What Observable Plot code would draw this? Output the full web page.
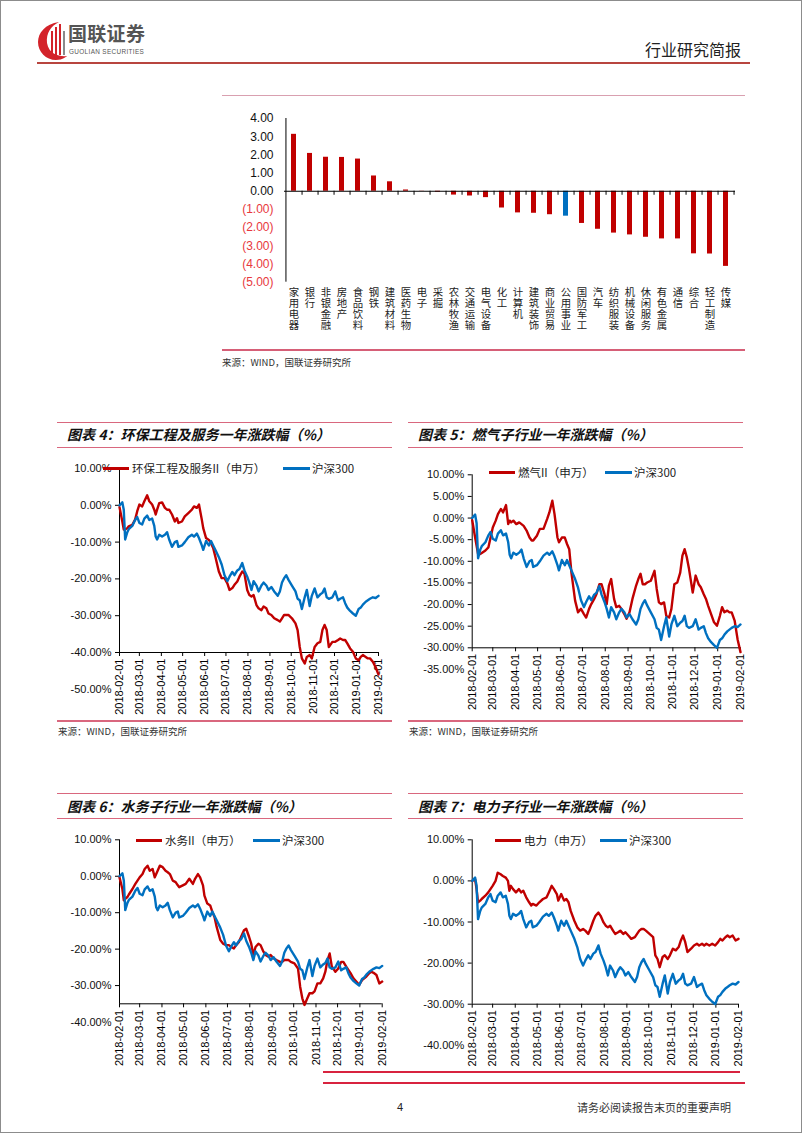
<!DOCTYPE html>
<html><head><meta charset="utf-8">
<script src="https://cdn.jsdelivr.net/npm/d3@7"></script>
<script src="https://cdn.jsdelivr.net/npm/@observablehq/plot@0.6"></script>
<style>
body{margin:0;background:#fff;}
#page{position:relative;width:802px;height:1133px;overflow:hidden;background:#fff;font-family:"Noto Sans CJK SC","Noto Sans",sans-serif;color:#222;}
.a{position:absolute;white-space:nowrap;}
.ln{position:absolute;height:1px;}
.ttl{position:absolute;font-size:14px;font-weight:bold;font-style:italic;line-height:20px;color:#111;white-space:nowrap;}
.src{position:absolute;font-size:9.5px;line-height:12px;color:#333;white-space:nowrap;}
.lgt{position:absolute;font-size:11.5px;line-height:16px;color:#222;white-space:nowrap;}
.seg{position:absolute;height:3px;}
.plotbox{position:absolute;}
.plotbox svg{overflow:visible;}
#barbox text[aria-label="catlab"]{writing-mode:vertical-rl;text-orientation:upright;letter-spacing:0.6px;}
</style></head>
<body><div id="page"></div>
<script>
// ---------------- data ----------------
const barCats = ["家用电器","银行","非银金融","房地产","食品饮料","钢铁","建筑材料","医药生物","电子","采掘","农林牧渔","交通运输","电气设备","化工","计算机","建筑装饰","商业贸易","公用事业","国防军工","汽车","纺织服装","机械设备","休闲服务","有色金属","通信","综合","轻工制造","传媒"];
const barVals = [3.13,2.08,1.87,1.86,1.77,0.84,0.52,0.07,0.01,-0.05,-0.21,-0.26,-0.35,-0.92,-1.19,-1.21,-1.29,-1.37,-1.77,-2.09,-2.30,-2.40,-2.53,-2.62,-2.62,-3.44,-3.45,-4.13];
const barHighlight = "公用事业";
const barTicks = [4,3,2,1,0,-1,-2,-3,-4,-5];

const dates = ["2018-02-01","2018-02-05","2018-02-07","2018-02-09","2018-02-12","2018-02-14","2018-02-19","2018-02-23","2018-02-26","2018-03-01",
"2018-03-05","2018-03-08","2018-03-12","2018-03-15","2018-03-19","2018-03-22","2018-03-24","2018-03-26","2018-03-29","2018-04-02",
"2018-04-06","2018-04-09","2018-04-12","2018-04-16","2018-04-20","2018-04-23","2018-04-25","2018-04-30","2018-05-04","2018-05-09",
"2018-05-14","2018-05-17","2018-05-21","2018-05-24","2018-05-28","2018-05-30","2018-06-03","2018-06-07","2018-06-10","2018-06-13",
"2018-06-16","2018-06-21","2018-06-25","2018-06-29","2018-07-03","2018-07-06","2018-07-10","2018-07-13","2018-07-17","2018-07-20",
"2018-07-24","2018-07-27","2018-07-31","2018-08-03","2018-08-06","2018-08-09","2018-08-13","2018-08-16","2018-08-20","2018-08-23",
"2018-08-27","2018-08-30","2018-09-03","2018-09-07","2018-09-12","2018-09-15","2018-09-18","2018-09-21","2018-09-24","2018-09-27",
"2018-10-02","2018-10-07","2018-10-10","2018-10-13","2018-10-16","2018-10-20","2018-10-23","2018-10-27","2018-10-30","2018-11-03",
"2018-11-07","2018-11-11","2018-11-14","2018-11-17","2018-11-20","2018-11-23","2018-11-28","2018-12-02","2018-12-06","2018-12-09",
"2018-12-13","2018-12-16","2018-12-19","2018-12-23","2018-12-27","2018-12-31","2019-01-04","2019-01-07","2019-01-10","2019-01-14",
"2019-01-17","2019-01-20","2019-01-24","2019-01-28","2019-02-01"];

const hs300 = [0,0.8,-1.2,-9.3,-7.3,-6.5,-5.6,-4,-3.2,-4.8,
-5.2,-3.6,-2.8,-4,-3.6,-5.6,-8.5,-9.3,-8,-8.5,
-8,-7.3,-9.3,-11.3,-10,-9.7,-11.3,-10.9,-10,-8.7,
-8,-8.5,-7.7,-8.9,-10.9,-12.1,-9.7,-10.9,-9.7,-10.9,
-12.1,-14.1,-16.1,-19,-20.6,-19.4,-18.1,-19,-17.7,-17.3,
-15.7,-17.7,-19.4,-21,-23,-20.6,-21.8,-23.4,-21.8,-21,
-21.8,-23,-22.2,-23.4,-24.6,-23.4,-21,-19.8,-19,-20.2,
-21.8,-23.4,-25.4,-25.8,-28.2,-25,-23,-27.4,-24.6,-22.6,
-25,-24.2,-23.8,-22.6,-25,-25.4,-25,-23.4,-25.8,-25.4,
-25,-26.6,-27.8,-28.7,-29.4,-30,-28.2,-27.8,-27,-26.2,
-25.8,-25.4,-25,-25.2,-24.6];

const envSeries = [-0.5,-4.4,-6.6,-6.6,-6.2,-5.7,-5.3,-3.9,-1.6,0.2,
-0.3,1.1,2.7,1.1,0.2,-1.2,-2.5,-1.2,0.6,0.8,
-0.7,-1.2,-1.2,-2.5,-4.4,-3.5,-4.8,-4.4,-3,-2.1,
-1.2,-0.3,-0.7,0.2,-3.9,-6.2,-8.9,-9.4,-10.3,-11.6,
-13.9,-18,-19.8,-19.8,-21.2,-23,-22.5,-21.6,-20.7,-19.4,
-18,-18.5,-23,-24.4,-24.8,-24.4,-27.1,-28,-28.5,-27.5,
-28,-29.4,-29.8,-30.7,-31.2,-31.6,-30.7,-29.8,-29.8,-29.8,
-30.7,-32.1,-33.9,-38.5,-41.6,-43,-41.2,-40.7,-41.6,-38.5,
-37.5,-37.1,-33.9,-32.5,-33.9,-38.5,-37.1,-37.1,-36.6,-36.2,
-36.6,-36.6,-37.5,-38.9,-39.8,-41.6,-42.1,-41.2,-40.7,-41.2,
-41.6,-41.6,-42.5,-44,-46];

const gasSeries = [-0.5,-4.5,-6.4,-8.3,-8.3,-8.1,-7.5,-6.8,-4.5,-2.2,
-0.6,0.9,2.1,1.3,3.0,-1.4,-0.6,-1,-0.6,-1.4,
-1,-1.4,-1.8,-2.9,-4.5,-5.2,-5.2,-4.1,-2.5,-2.5,
-0.2,1.3,4,0.9,-4.5,-5.6,-4.5,-4.5,-6,-7.2,
-12.6,-19.1,-21.8,-21,-22.2,-23,-21,-19.9,-18.7,-17.6,
-15.3,-15.3,-17.6,-19.9,-15.6,-14.1,-18.7,-20.6,-20.3,-21,
-22.2,-23.3,-21.8,-18.7,-15.6,-14.1,-12.9,-15.3,-15.3,-14.9,
-14.5,-12.2,-16.4,-19.5,-19.9,-19.5,-22.6,-23,-21,-15.3,
-14.9,-12.6,-8.7,-7.2,-9.1,-11.8,-17.2,-13.3,-15.3,-16,
-17.6,-18.7,-20.3,-22.2,-24.1,-24.9,-22.6,-20.6,-21.8,-21.4,
-21.8,-21.8,-23.7,-28,-31];

const waterSeries = [-0.3,-3.5,-6.6,-6.2,-5.7,-5,-3.5,-2.1,-1.2,-0.3,
0.6,2,2.9,1.5,2,-0.3,0.6,1.5,2.9,2.5,
1.5,1.1,0.6,-1.2,-1.6,-2.5,-3,-2.5,-2.1,-0.7,
-2.1,-0.7,0.6,-0.3,-2.5,-5.3,-7.5,-8,-9.8,-11.2,
-13.9,-17.5,-18.5,-18.9,-18.9,-19.4,-19.8,-18.9,-18,-16.6,
-14.8,-14.4,-16.6,-18.5,-21.6,-19.4,-18.5,-18.9,-20.7,-21.6,
-22.1,-21.6,-22.5,-23,-23.5,-23.5,-23,-23,-23,-23.5,
-23.9,-25.3,-30.3,-33.5,-35.3,-33.5,-32.1,-32.1,-31.6,-29.4,
-29.4,-28,-26.2,-23,-21.2,-24.8,-26.2,-25.3,-23.5,-23.5,
-24.8,-25.7,-26.6,-28,-28.9,-29.8,-28.5,-28,-27.5,-26.6,
-26.2,-26.5,-27.1,-29.4,-28.9];

const powerSeries = [0,0.4,-2,-5.2,-4.8,-4.4,-3.6,-2.8,-2,-1.2,
0,2,1.6,1.2,0.8,0,-2.4,-1.2,-2,-2.8,
-2,-2.8,-2.4,-4,-5.2,-6,-5.6,-6,-5.2,-4.4,
-4,-2.8,-1.2,-2,-3.2,-4.8,-3.2,-4.8,-4.4,-5.2,
-7.3,-9.7,-11.3,-12.1,-11.7,-12.1,-12.9,-11.7,-9.7,-8.5,
-7.7,-8.5,-10.1,-10.9,-11.3,-10.9,-12.1,-12.9,-12.5,-12.1,
-12.9,-12.5,-13.3,-14.1,-13.7,-12.9,-12.1,-11.7,-11.7,-12.1,
-12.9,-13.7,-18.1,-19,-21,-18.5,-18.1,-19,-18.1,-16.5,
-16.9,-16.1,-14.5,-13.3,-14.9,-17.3,-16.5,-15.7,-15.3,-15.7,
-15.3,-15.7,-15.3,-15.7,-15.3,-15.7,-14.9,-14.1,-14.5,-13.7,
-13.3,-13.7,-13.3,-14.5,-14.1];

const hsName = "沪深300";
const sourceText = "来源：WIND，国联证券研究所";

// ---------------- page ----------------
const RED = "#C00000", BLUE = "#0070C0", LINE = "#d9677e";
const page = document.getElementById("page");
function el(cls, css, html) {
  const d = document.createElement("div");
  d.className = cls; d.style.cssText = css; if (html != null) d.innerHTML = html;
  page.appendChild(d); return d;
}

// header
el("a", "left:37px;top:19px;width:30px;height:42px;", `<svg width="30" height="42" viewBox="0 0 30 42">
<path d="M22 3 C8 5 1 14 1 23 C1 33 9 41 19 41 C26 41 30 37 30 37 C24 38 12 36 10 24 C9 14 14 7 22 3Z" fill="#d3232a"/>
<rect x="14" y="12" width="2" height="24" fill="#d3232a"/><rect x="18" y="8" width="2" height="28" fill="#d3232a"/>
<rect x="22" y="5" width="2" height="31" fill="#d3232a"/><rect x="26" y="12" width="2" height="24" fill="#8a8a8a"/></svg>`);
el("a", "left:68px;top:19px;font-size:19px;font-weight:bold;color:#555;letter-spacing:0.3px;line-height:27px;", "国联证券");
el("a", "left:69px;top:48px;font-size:6.4px;color:#555;font-family:'Liberation Sans',Arial;letter-spacing:0.35px;line-height:8px;", "GUOLIAN SECURITIES");
el("a", "left:645px;top:38px;font-size:16px;color:#222;line-height:22px;", "行业研究简报");
el("ln", "left:37px;top:62px;width:713px;height:2px;background:#b8453f;");

// bar chart section
el("ln", "left:222px;top:95px;width:523px;background:#d9a0b0;");
el("ln", "left:222px;top:349px;width:523px;height:1.5px;background:#d65f77;");
el("src", "left:222px;top:356px;", sourceText);

// chart section frames
function section(left, topLine, titleTop, titleText, bottomLine, srcTop) {
  el("ln", `left:${left}px;top:${topLine}px;width:335px;background:${LINE};`);
  el("ttl", `left:${left + 10}px;top:${titleTop}px;`, titleText);
  el("ln", `left:${left}px;top:${topLine + 25}px;width:335px;background:${LINE};`);
  if (bottomLine != null) {
    el("ln", `left:${left}px;top:${bottomLine}px;width:335px;height:1.5px;background:${LINE};`);
    el("src", `left:${left + 1}px;top:${srcTop}px;`, sourceText);
  }
}
section(57, 422, 424, "图表 4：环保工程及服务一年涨跌幅（%）", 720, 725);
section(408, 422, 424, "图表 5：燃气子行业一年涨跌幅（%）", 720, 725);
section(57, 793, 796, "图表 6：水务子行业一年涨跌幅（%）", null, null);
section(408, 793, 796, "图表 7：电力子行业一年涨跌幅（%）", null, null);

// footer
el("ln", "left:323px;top:1071px;width:417px;height:1.5px;background:#d8233f;");
el("ln", "left:323px;top:1082px;width:422px;height:1.5px;background:#d8233f;");
el("a", "left:397px;top:1100px;font-size:11px;font-family:'Liberation Sans',Arial;color:#222;line-height:14px;", "4");
el("a", "left:577px;top:1099px;font-size:11px;color:#333;line-height:16px;", "请务必阅读报告末页的重要声明");

// ---------------- bar chart ----------------
{
  const W = 525, H = 250, ml = 64, mr = 10, mt = 18, mb = 68.3;
  const step = (W - ml - mr) / barCats.length;
  const rows = barCats.map((c, i) => ({cat: c, v: barVals[i]}));
  const fmt = v => v >= 0 ? v.toFixed(2) : "(" + (-v).toFixed(2) + ")";
  const p = Plot.plot({
    width: W, height: H, marginLeft: ml, marginRight: mr, marginTop: mt, marginBottom: mb,
    x: {domain: barCats, paddingInner: 0.68, paddingOuter: 0.34, axis: null},
    y: {domain: [-5, 4], axis: null},
    color: {type: "identity"},
    style: {fontFamily: "'Liberation Sans', Arial, sans-serif", fontSize: "12px", background: "transparent", color: "#000"},
    marks: [
      Plot.barY(rows, {x: "cat", y: "v", fill: d => d.cat === barHighlight ? BLUE : RED}),
      Plot.ruleX([barCats[0]], {x: d => d, dx: -step / 2, stroke: "#000"}),
      Plot.ruleY(barTicks, {y: d => d, x1: barCats[0], x2: barCats[0], dx: -step / 2, insetLeft: -4, stroke: "#000"}),
      Plot.ruleY([0], {stroke: "#000"}),
      Plot.ruleX(barCats, {x: d => d, y1: 0, y2: 0, insetBottom: -4, dx: step / 2, stroke: "#000"}),
      Plot.text(barTicks, {y: d => d, frameAnchor: "left", textAnchor: "end", dx: -11, text: fmt, fill: d => d < 0 ? "#e8383d" : "#111", fontSize: 12}),
      Plot.text(barCats, {x: d => d, frameAnchor: "bottom", textAnchor: "start", lineAnchor: "bottom", dy: 5, text: d => d, fontSize: 10.4, fontFamily: "'Noto Sans CJK SC', sans-serif", fill: "#222", ariaLabel: () => "catlab"})
    ]
  });
  const box = el("plotbox", "left:220px;top:100px;");
  box.id = "barbox";
  box.appendChild(p);
}

// ---------------- line charts ----------------
const parse = d3.utcParse("%Y-%m-%d");
const X = dates.map(parse);
const monthTicks = d3.utcMonth.range(X[0], new Date(X[X.length - 1].getTime() + 86400000));

function lineChart(o) {
  const rows = X.map((d, i) => ({date: d, red: o.red[i], hs: hs300[i]}));
  const inDom = o.yTicks.filter(t => t >= o.yDomain[0] && t <= o.yDomain[1]);
  const p = Plot.plot({
    width: o.width, height: o.height,
    marginLeft: o.ml, marginRight: o.mr, marginTop: o.mt, marginBottom: o.mb,
    x: {type: "utc", domain: [X[0], X[X.length - 1]]},
    y: {domain: o.yDomain},
    style: {fontFamily: "'Liberation Sans', Arial, sans-serif", fontSize: "11px", background: "transparent", color: "#000"},
    marks: [
      Plot.ruleX([X[0]], {stroke: "#000"}),
      Plot.ruleY([o.yDomain[0]], {stroke: "#000"}),
      Plot.axisY({ticks: inDom, tickSize: 4, tickFormat: () => "", anchor: "left", label: null}),
      Plot.axisX({ticks: monthTicks, tickFormat: d3.utcFormat("%Y-%m-%d"), tickRotate: -90, tickSize: 4, tickPadding: 2, anchor: "bottom", fontSize: 11, label: null}),
      Plot.text(o.yTicks, {y: d => d, frameAnchor: "left", textAnchor: "end", dx: -8, text: d => d.toFixed(2) + "%", fontSize: 11, fill: "#111"}),
      Plot.lineY(rows, {x: "date", y: "red", stroke: RED, strokeWidth: 2.4}),
      Plot.lineY(rows, {x: "date", y: "hs", stroke: BLUE, strokeWidth: 2.4})
    ]
  });
  const box = el("plotbox", `left:${o.left}px;top:${o.top}px;`);
  box.appendChild(p);
  const L = o.legend;
  el("seg", `left:${L.r}px;top:${L.y - 1.5}px;width:26px;background:${RED};`);
  el("lgt", `left:${L.r + 29}px;top:${L.y - 8}px;`, o.redName);
  el("seg", `left:${L.b}px;top:${L.y - 1.5}px;width:27px;background:${BLUE};`);
  el("lgt", `left:${L.b + 29}px;top:${L.y - 8}px;`, hsName);
}

lineChart({red: envSeries, redName: "环保工程及服务II（申万）", yDomain: [-40, 10], yTicks: [10,0,-10,-20,-30,-40,-50],
  left: 57, top: 455, width: 335, height: 270, ml: 62, mr: 14, mt: 13, mb: 73, legend: {r: 103, b: 283, y: 468}});
lineChart({red: gasSeries, redName: "燃气II（申万）", yDomain: [-30, 10], yTicks: [10,5,0,-5,-10,-15,-20,-25,-30,-35],
  left: 408, top: 455, width: 335, height: 265, ml: 63.7, mr: 3, mt: 19.3, mb: 72.7, legend: {r: 489, b: 605, y: 472}});
lineChart({red: waterSeries, redName: "水务II（申万）", yDomain: [-35, 10], yTicks: [10,0,-10,-20,-30,-40],
  left: 57, top: 826, width: 335, height: 250, ml: 62, mr: 10.3, mt: 13.3, mb: 72.7, legend: {r: 136, b: 253, y: 840}});
lineChart({red: powerSeries, redName: "电力（申万）", yDomain: [-30, 10], yTicks: [10,0,-10,-20,-30,-40],
  left: 408, top: 826, width: 335, height: 250, ml: 63.7, mr: 5, mt: 13.3, mb: 72.3, legend: {r: 495, b: 600, y: 840}});

// page border
el("a", "left:0;top:0;width:802px;height:1133px;box-sizing:border-box;border:1px solid #8c8c8c;pointer-events:none;");
</script></body></html>
